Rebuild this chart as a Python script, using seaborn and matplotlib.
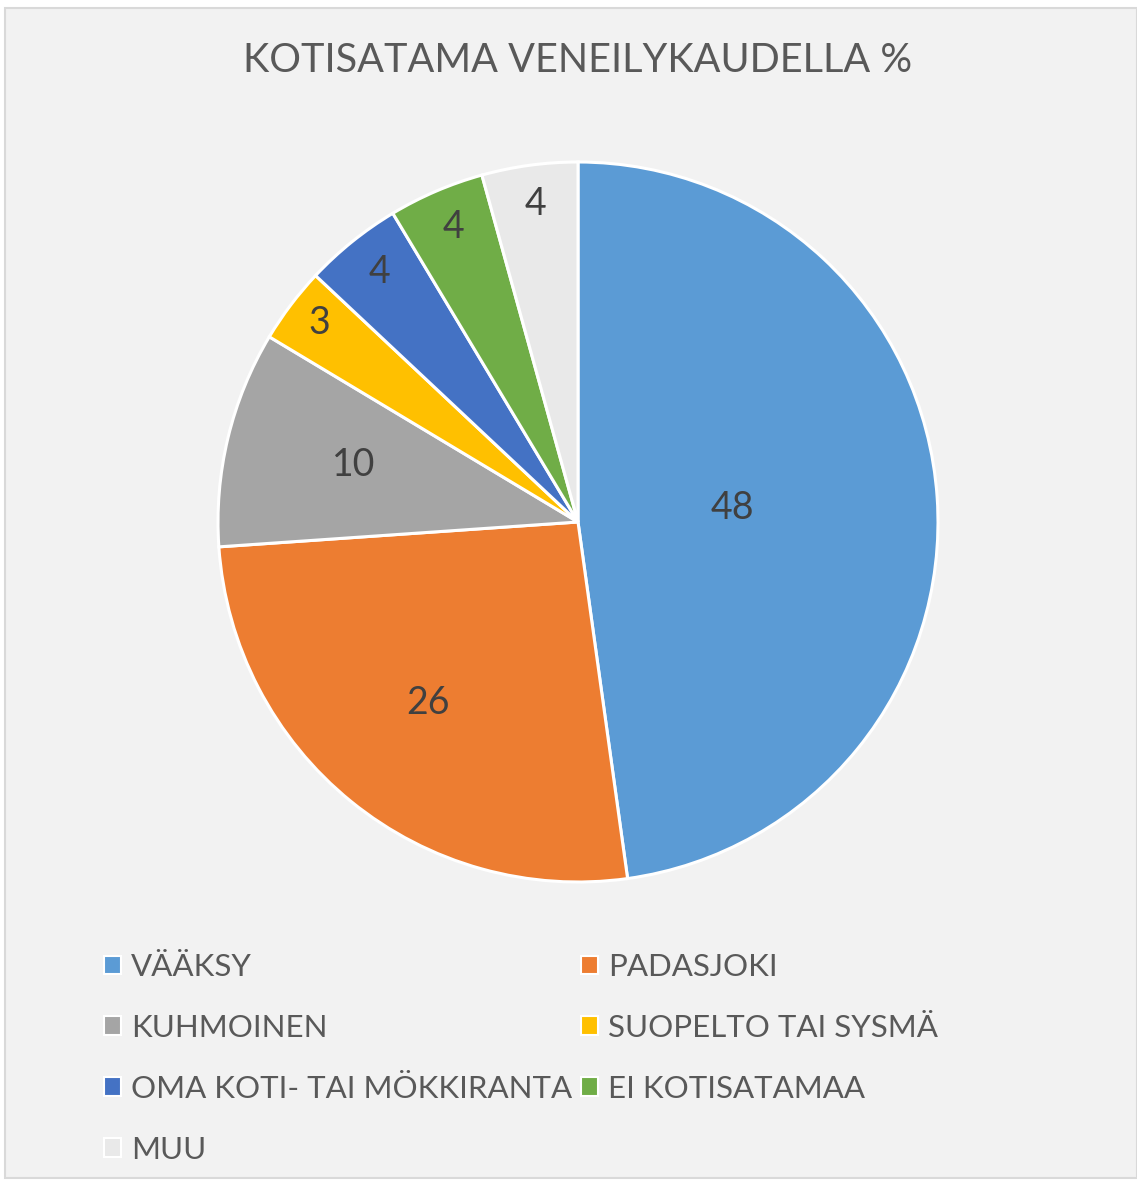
import numpy as np
import matplotlib.pyplot as plt
import seaborn as sns
from matplotlib.patches import Patch, Rectangle

sns.set_style("white")
plt.rcParams['font.family'] = ['Lato', 'DejaVu Sans']

# --- DATA ---
categories = ['VÄÄKSY', 'PADASJOKI', 'KUHMOINEN', 'SUOPELTO TAI SYSMÄ',
              'OMA KOTI- TAI MÖKKIRANTA', 'EI KOTISATAMAA', 'MUU']
shares = [47.8, 26.1, 9.7, 3.4, 4.4, 4.3, 4.3]
value_labels = ['48', '26', '10', '3', '4', '4', '4']
colors = ['#5B9BD5', '#ED7D31', '#A5A5A5', '#FFC000', '#4472C4', '#70AD47', '#E9E9E9']
label_dist = [0.43, 0.66, 0.64, 0.90, 0.88, 0.88, 0.88]

W, H = 1137, 1182
fig = plt.figure(figsize=(W / 100, H / 100), dpi=100)
fig.patch.set_facecolor('white')

# chart area background with light border
fig.patches.append(Rectangle((5 / W, 4 / H), (W - 5) / W, (H - 12) / H,
                             transform=fig.transFigure, facecolor='#F2F2F2',
                             edgecolor='#D9D9D9', linewidth=1.5, zorder=-10))

# pie axes: center (578, 522) px, radius 360 px
cx, cy, r = 578, 522, 360
ax = fig.add_axes([(cx - r) / W, 1 - (cy + r) / H, 2 * r / W, 2 * r / H])
ax.set_facecolor('none')
ax.set_zorder(5)
wedges, _ = ax.pie(shares, colors=colors, startangle=90, counterclock=False,
                   wedgeprops=dict(edgecolor='white', linewidth=2.2))
ax.set_xlim(-1.0, 1.0)
ax.set_ylim(-1.0, 1.0)
ax.set_aspect('equal')
ax.axis('off')

for w, lab, d in zip(wedges, value_labels, label_dist):
    mid = np.deg2rad((w.theta1 + w.theta2) / 2)
    ax.text(d * np.cos(mid), d * np.sin(mid) + 0.01, lab, ha='center', va='center',
            fontsize=27, color='#404040')

fig.text(578 / W, 1 - 60 / H, 'KOTISATAMA VENEILYKAUDELLA %', ha='center', va='center',
         fontsize=28.5, color='#595959')

# legend, filled row-wise like the original
handles = [Patch(facecolor=c, edgecolor='white', linewidth=1.5) for c in colors]
order = [0, 2, 4, 6, 1, 3, 5]
leg = fig.legend([handles[i] for i in order], [categories[i] for i in order],
                 loc='upper left', bbox_to_anchor=(76 / W, 1 - 925 / H), ncol=2,
                 frameon=False, fontsize=22.5, labelcolor='#595959',
                 handlelength=0.55, handleheight=0.55, handletextpad=0.3,
                 columnspacing=0.3, labelspacing=1.05)
leg.set_zorder(5)

fig.savefig('out.png', dpi=100, facecolor=fig.get_facecolor())
